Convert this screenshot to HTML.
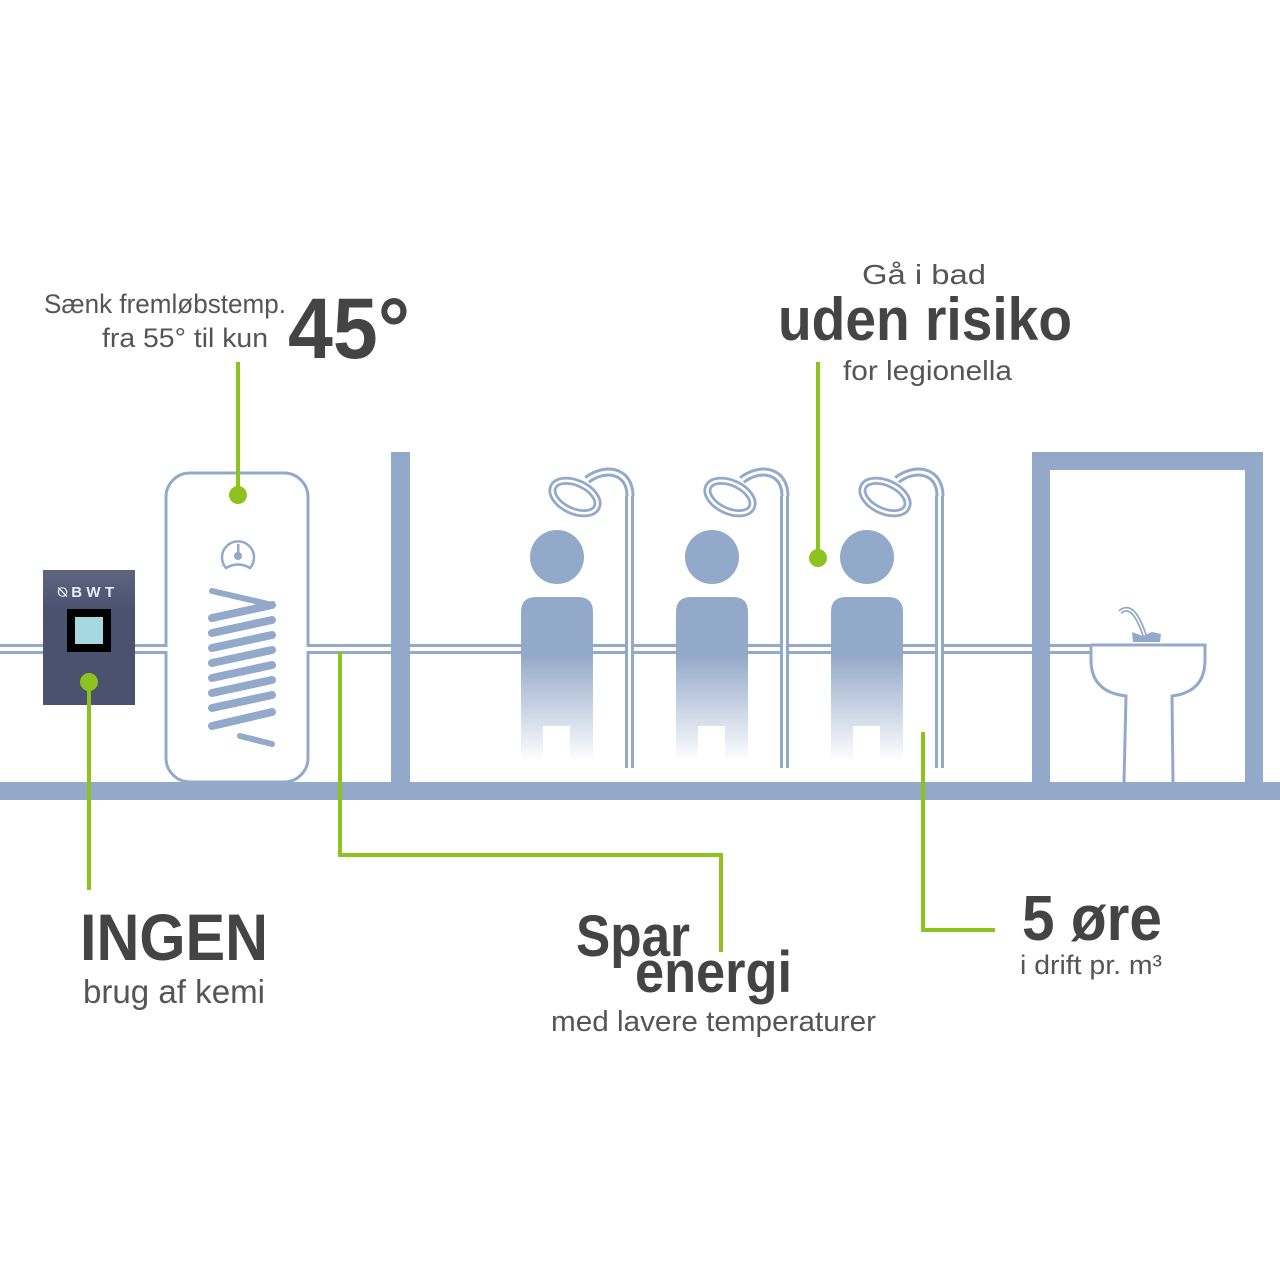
<!DOCTYPE html>
<html><head><meta charset="utf-8"><style>
html,body{margin:0;padding:0;background:#fff;}
svg{display:block;}
text{font-family:"Liberation Sans",sans-serif;}
</style></head><body>
<svg width="1280" height="1280" viewBox="0 0 1280 1280" xmlns="http://www.w3.org/2000/svg">
<defs>
<linearGradient id="body" x1="0" y1="0" x2="0" y2="1">
<stop offset="0" stop-color="#93a9c9"/><stop offset="0.35" stop-color="#93a9c9"/><stop offset="1" stop-color="#93a9c9" stop-opacity="0"/>
</linearGradient>
<linearGradient id="bwt" x1="0" y1="0" x2="0" y2="1">
<stop offset="0" stop-color="#5d6580"/><stop offset="0.3" stop-color="#4a5270"/><stop offset="1" stop-color="#4a5270"/>
</linearGradient>
<g id="shower">
<path d="M73,18 C73,-8 48,-12 30,2" fill="none" stroke="#93a9c9" stroke-width="9"/>
<path d="M73,18 C73,-8 48,-12 30,2" fill="none" stroke="#fff" stroke-width="3"/>
<ellipse cx="18" cy="19" rx="24" ry="14" transform="rotate(25 18 19)" fill="none" stroke="#93a9c9" stroke-width="8"/>
<ellipse cx="18" cy="19" rx="24" ry="14" transform="rotate(25 18 19)" fill="none" stroke="#fff" stroke-width="2.5"/>
<rect x="68" y="18" width="9" height="272" fill="#93a9c9"/>
<rect x="71" y="18" width="3" height="272" fill="#fff"/>
</g>
</defs>

<!-- pipe -->
<rect x="0" y="644" width="1092" height="10" fill="#93a9c9"/>
<rect x="0" y="647" width="1092" height="4" fill="#fff"/>

<!-- wall & floor -->
<rect x="391" y="452" width="19" height="340" fill="#93a9c9"/>
<rect x="0" y="782" width="1280" height="18" fill="#93a9c9"/>
<!-- door frame -->
<path d="M1032,452 H1263 V790 H1245 V470 H1050 V790 H1032 Z" fill="#93a9c9"/>

<!-- BWT -->
<rect x="43" y="570" width="92" height="135" fill="url(#bwt)"/>
<text x="58" y="597" font-size="15" font-weight="bold" fill="#e8ecf2" textLength="56">⍉BWT</text>
<rect x="67" y="609" width="44" height="43" fill="#000"/>
<rect x="75" y="617" width="28" height="27" fill="#a6d8e2"/>

<!-- tank -->
<rect x="166" y="473" width="142" height="309" rx="24" fill="#fff" stroke="#93a9c9" stroke-width="3"/>
<rect x="160" y="647" width="10" height="4" fill="#fff"/>
<rect x="305" y="647" width="10" height="4" fill="#fff"/>
<path d="M226,568 A16,16 0 1 1 250,568 Q238,561 226,568 Z" fill="none" stroke="#93a9c9" stroke-width="2.5"/>
<circle cx="238" cy="556" r="4" fill="#93a9c9"/><rect x="237" y="544" width="2.5" height="11" fill="#93a9c9"/>
<g stroke="#93a9c9" stroke-width="8" stroke-linecap="round">
<line x1="212" y1="591" x2="268" y2="604" stroke-width="6"/>
<line x1="212" y1="618" x2="272" y2="605"/>
<line x1="212" y1="633" x2="272" y2="620"/>
<line x1="212" y1="648" x2="272" y2="635"/>
<line x1="212" y1="663" x2="272" y2="650"/>
<line x1="212" y1="678" x2="272" y2="665"/>
<line x1="212" y1="693" x2="272" y2="680"/>
<line x1="212" y1="708" x2="272" y2="695"/>
<line x1="212" y1="726" x2="272" y2="712"/>
<line x1="240" y1="736" x2="272" y2="744" stroke-width="6"/>
</g>

<!-- showers + people -->
<use href="#shower" x="557" y="478"/>
<use href="#shower" x="712" y="478"/>
<use href="#shower" x="867" y="478"/>
<g fill="#93a9c9">
<circle cx="557" cy="557" r="27"/><circle cx="712" cy="557" r="27"/><circle cx="867" cy="557" r="27"/>
</g>
<g fill="url(#body)">
<path d="M521,612 Q521,597 536,597 H578 Q593,597 593,612 V762 H521 Z"/>
<path d="M676,612 Q676,597 691,597 H733 Q748,597 748,612 V762 H676 Z"/>
<path d="M831,612 Q831,597 846,597 H888 Q903,597 903,612 V762 H831 Z"/>
</g>
<g fill="#fff"><rect x="543" y="726" width="27" height="40"/><rect x="698" y="726" width="27" height="40"/><rect x="853" y="726" width="27" height="40"/></g>

<!-- sink -->
<path d="M1091,645 H1205 V660 Q1205,692 1172,696 L1173,782 M1091,645 V660 Q1091,692 1126,696 L1124,782" fill="none" stroke="#93a9c9" stroke-width="3"/>
<path d="M1120,612 Q1134,600 1146,640" fill="none" stroke="#93a9c9" stroke-width="5"/>
<path d="M1120,612 Q1134,600 1146,640" fill="none" stroke="#fff" stroke-width="1.5"/>
<path d="M1132,632 L1143,636 L1152,632 L1161,634 L1160,642 L1133,642 Z" fill="#93a9c9"/>

<!-- green connectors -->
<g stroke="#8dc21f" stroke-width="4" fill="none">
<line x1="238" y1="362" x2="238" y2="495"/>
<line x1="818" y1="362" x2="818" y2="558"/>
<line x1="89" y1="682" x2="89" y2="890"/>
<polyline points="340,652 340,855 721,855 721,952"/>
<polyline points="923,732 923,930 995,930"/>
</g>
<g fill="#8dc21f"><circle cx="238" cy="495" r="9"/><circle cx="818" cy="558" r="9"/><circle cx="89" cy="682" r="9"/></g>

<!-- text -->
<g fill="#555">
<text x="44" y="313" font-size="27" textLength="242" lengthAdjust="spacingAndGlyphs">Sænk fremløbstemp.</text>
<text x="102" y="347" font-size="27" textLength="166" lengthAdjust="spacingAndGlyphs">fra 55° til kun</text>
<text x="862" y="284" font-size="28" textLength="124" lengthAdjust="spacingAndGlyphs">Gå i bad</text>
<text x="843" y="380" font-size="28" textLength="169" lengthAdjust="spacingAndGlyphs">for legionella</text>
<text x="83" y="1003" font-size="33" textLength="182" lengthAdjust="spacingAndGlyphs">brug af kemi</text>
<text x="551" y="1031" font-size="29" textLength="325" lengthAdjust="spacingAndGlyphs">med lavere temperaturer</text>
<text x="1020" y="974" font-size="27" textLength="142" lengthAdjust="spacingAndGlyphs">i drift pr. m³</text>
</g>
<g fill="#444" font-weight="bold">
<text x="288" y="358" font-size="86" textLength="122" lengthAdjust="spacingAndGlyphs">45°</text>
<text x="778" y="340" font-size="60" textLength="294" lengthAdjust="spacingAndGlyphs">uden risiko</text>
<text x="80" y="960" font-size="66" textLength="188" lengthAdjust="spacingAndGlyphs">INGEN</text>
<text x="576" y="956" font-size="58" textLength="114" lengthAdjust="spacingAndGlyphs">Spar</text>
<text x="635" y="992" font-size="58" textLength="157" lengthAdjust="spacingAndGlyphs">energi</text>
<text x="1022" y="940" font-size="64" textLength="140" lengthAdjust="spacingAndGlyphs">5 øre</text>
</g>
</svg>
</body></html>
